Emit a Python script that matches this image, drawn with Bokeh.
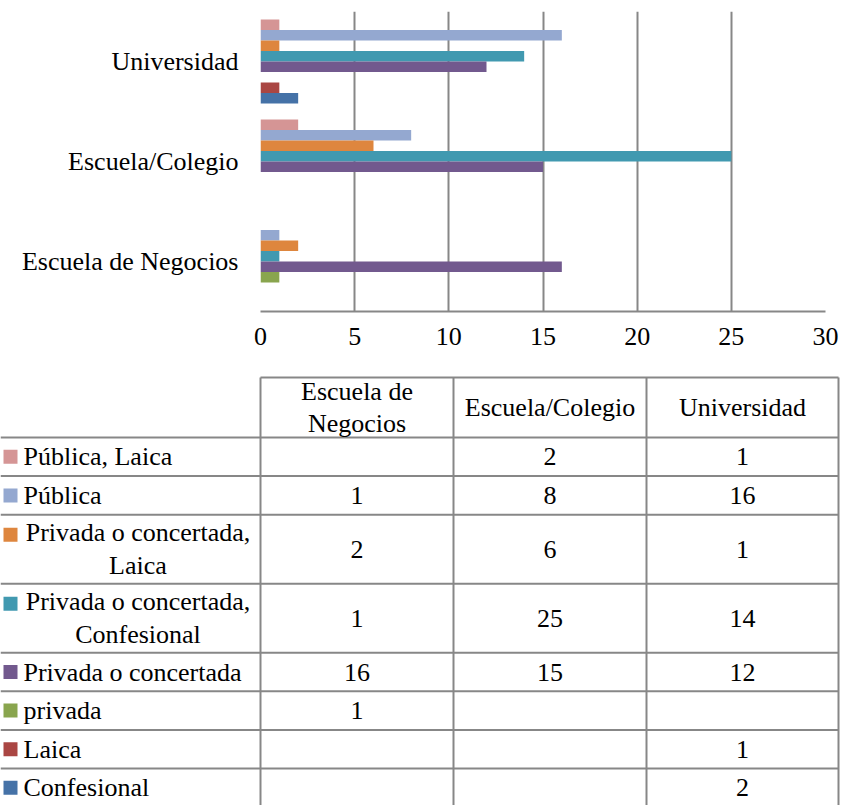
from bokeh.plotting import figure
from bokeh.models import FactorRange, Range1d, FixedTicker, ColumnDataSource
from bokeh.transform import dodge
from bokeh.core.properties import value
from bokeh.embed import file_html
from bokeh.resources import INLINE

# ---------------- data ----------------
categories = ["Escuela de Negocios", "Escuela/Colegio", "Universidad"]
series_names = [
    "Pública, Laica",
    "Pública",
    "Privada o concertada, Laica",
    "Privada o concertada, Confesional",
    "Privada o concertada",
    "privada",
    "Laica",
    "Confesional",
]
publica_laica = [None, 2, 1]
publica = [1, 8, 16]
privada_laica = [2, 6, 1]
privada_confesional = [1, 25, 14]
privada_concertada = [16, 15, 12]
privada = [1, None, None]
laica = [None, None, 1]
confesional = [None, None, 2]
series_values = [publica_laica, publica, privada_laica, privada_confesional,
                 privada_concertada, privada, laica, confesional]
colors = ["#D59595", "#94A8D0", "#DE863E", "#4199B0",
          "#72598E", "#89A54E", "#AA4643", "#4572A7"]
x_ticks = [0, 5, 10, 15, 20, 25, 30]

FONT = "Liberation Serif"
FSIZE = "26px"
GREY = "#878787"

# ---------------- bar chart ----------------
p = figure(width=841, height=365,
           y_range=FactorRange(factors=categories),
           x_range=Range1d(0, 30),
           output_backend="svg", toolbar_location=None,
           min_border_left=260, min_border_right=16,
           min_border_top=11, min_border_bottom=54)
p.outline_line_color = None
p.background_fill_color = "white"

n = len(series_names)
bar_h = 0.105
for i, (name, vals) in enumerate(zip(series_names, series_values)):
    cats = [c for c, v in zip(categories, vals) if v is not None]
    vs = [v for v in vals if v is not None]
    src = ColumnDataSource(dict(cat=cats, val=vs))
    offset = bar_h * n / 2 - bar_h * (i + 0.5)
    p.hbar(y=dodge("cat", offset, range=p.y_range), left=0, right="val",
           height=bar_h, source=src, fill_color=colors[i], line_color=None)

p.ygrid.visible = False
p.xgrid.grid_line_color = GREY
p.xgrid.grid_line_width = 2
p.xaxis.ticker = FixedTicker(ticks=x_ticks)
p.xaxis.axis_line_color = GREY
p.xaxis.axis_line_width = 2
p.yaxis.axis_line_color = None
for ax in (p.xaxis[0], p.yaxis[0]):
    ax.major_tick_line_color = None
    ax.minor_tick_line_color = None
    ax.major_tick_out = 0
    ax.major_tick_in = 0
    ax.major_label_text_font = FONT
    ax.major_label_text_font_size = FSIZE
    ax.major_label_text_color = "black"
p.xaxis.major_label_standoff = 16
p.yaxis.major_label_standoff = 22

# ---------------- data table ----------------
t = figure(width=841, height=440, x_range=Range1d(0, 841), y_range=Range1d(440, 0),
           output_backend="svg", toolbar_location=None, min_border=0,
           min_border_left=0, min_border_right=0, min_border_top=0, min_border_bottom=0,
           x_axis_location=None, y_axis_location=None)
t.outline_line_color = None
t.grid.visible = False

def wrap(s, limit):
    if len(s) <= limit:
        return s
    if ", " in s:
        k = s.rfind(", ")
        return s[:k + 1] + "\n" + s[k + 2:]
    k = s.rfind(" ")
    return s[:k] + "\n" + s[k + 1:]

col_x = [260, 453, 646, 838]
top = 12
header_h = 60
line_h1 = 38.6
line_h2 = 69

row_labels = [wrap(s, 22) for s in series_names]
row_tops = []
y = top + header_h
for lab in row_labels:
    row_tops.append(y)
    y += line_h2 if "\n" in lab else line_h1
row_bottom = y

# grid lines
x0s, y0s, x1s, y1s = [], [], [], []
x0s.append(col_x[0]); y0s.append(top); x1s.append(col_x[-1]); y1s.append(top)
for rt in row_tops:
    x0s.append(0); y0s.append(rt); x1s.append(col_x[-1]); y1s.append(rt)
for cx in col_x:
    x0s.append(cx); y0s.append(top); x1s.append(cx); y1s.append(row_bottom)
t.segment(x0=x0s, y0=y0s, x1=x1s, y1=y1s, line_color=GREY, line_width=2)

# header text
hx = [(col_x[j] + col_x[j + 1]) / 2 for j in range(len(categories))]
hy = [top + header_h / 2] * len(categories)
ht = [wrap(c, 16) for c in categories]
t.text(x=hx, y=hy, text=ht, text_font=value(FONT), text_font_size=value(FSIZE),
       text_align="center", text_baseline="middle", text_line_height=1.12,
       text_color="black")

# row labels and keys
sx, sy, st = [], [], []
mx, my, mt = [], [], []
kx, ky = [], []
for lab, rt in zip(row_labels, row_tops):
    if "\n" in lab:
        mx.append(137.5); my.append(rt + line_h2 / 2); mt.append(lab)
        kx.append(10); ky.append(rt + line_h2 / 2 - 14.5)
    else:
        sx.append(23); sy.append(rt + line_h1 / 2); st.append(lab)
        kx.append(10); ky.append(rt + line_h1 / 2)
t.text(x=sx, y=sy, text=st, text_font=value(FONT), text_font_size=value(FSIZE),
       text_align="left", text_baseline="middle", text_color="black")
t.text(x=mx, y=my, text=mt, text_font=value(FONT), text_font_size=value(FSIZE),
       text_align="center", text_baseline="middle", text_line_height=1.12,
       text_color="black")
t.scatter(x=kx, y=ky, marker="square", size=14, fill_color=colors, line_color=None)

# cell values
vx, vy, vt = [], [], []
for lab, rt, vals in zip(row_labels, row_tops, series_values):
    h = line_h2 if "\n" in lab else line_h1
    for j, v in enumerate(vals):
        if v is not None:
            vx.append(hx[j]); vy.append(rt + h / 2); vt.append(str(v))
t.text(x=vx, y=vy, text=vt, text_font=value(FONT), text_font_size=value(FSIZE),
       text_align="center", text_baseline="middle", text_color="black")

open("out.html", "w").write(file_html([p, t], INLINE))
